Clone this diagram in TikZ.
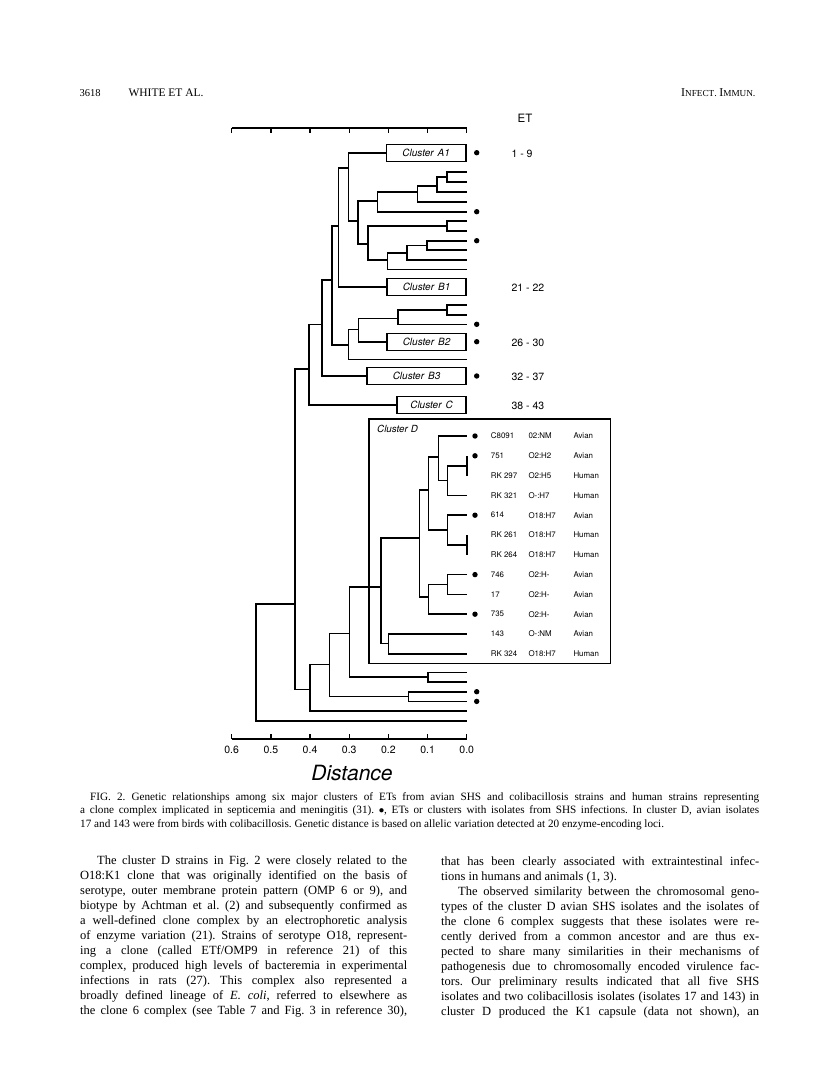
\documentclass[tikz,border=0pt]{standalone}
\usepackage{fontspec}
\setmainfont{Liberation Serif}
\newfontfamily\hel{TeX Gyre Heros}
\newcommand\bigsc[1]{{\fontsize{12}{14}\selectfont #1}}
\newcommand\smsc[1]{{\fontsize{9.2}{11}\selectfont #1}}

\begin{document}
\begin{tikzpicture}[x=1pt, y=-1pt,
  br/.style={line width=1.6pt},
  clbox/.style={draw, line width=1.3pt, minimum height=17pt, inner sep=0pt, anchor=east, font=\hel\itshape\fontsize{10}{12}\selectfont},
  dot/.style={circle, fill, inner sep=0pt, minimum size=5.4pt},
  ticklab/.style={font=\hel\fontsize{10.5}{12}\selectfont},
  etlab/.style={anchor=west, font=\hel\fontsize{10.5}{12}\selectfont},
  tb/.style={anchor=west, inner sep=0pt, font=\hel\fontsize{7.9}{9}\selectfont},
  txt/.style={anchor=north west, inner sep=0pt, align=justify}]
\useasboundingbox (0,0) rectangle (816,1082);

\node[anchor=base west, font=\fontsize{10.5}{12}\selectfont] (pgno) at (76,96) {3618};
\node[anchor=base west, font=\fontsize{11.5}{13}\selectfont] (auth) at (125,96) {WHITE ET AL.};
\node[anchor=base east] (jrnl) at (759,96) {\bigsc{I}\smsc{NFECT}.\ \bigsc{I}\smsc{MMUN}.};

% scale bars
\coordinate (tl) at (231.7,128);
\coordinate (tr) at (466.7,128);
\draw[line width=1.4pt] (tl) -- (tr);
\foreach \i in {0,...,6}
  \draw[line width=1.4pt] ({231.7+39.17*\i},128) -- ++(0,4.5);
\coordinate (bl) at (231.7,739);
\coordinate (brr) at (466.7,739);
\draw[line width=1.4pt] (bl) -- (brr);
\foreach \i/\t in {0/0.6,1/0.5,2/0.4,3/0.3,4/0.2,5/0.1,6/0.0} {
  \draw[line width=1.4pt] ({231.7+39.17*\i},739) -- ++(0,-5);
  \node[ticklab] (ax\i) at ({231.7+39.17*\i},749.5) {\t};
}
\node[font=\hel\itshape\fontsize{21}{24}\selectfont] (dist) at (352,773) {Distance};
\node[font=\hel\fontsize{11.5}{13}\selectfont] (et) at (525,118) {ET};

% cluster boxes
\node[clbox, minimum width=79.7pt] (cA1) at (466.7,152.7) {Cluster\hspace{4pt}A1};
\node[clbox, minimum width=79pt] (cB1) at (466.7,287) {Cluster\hspace{4pt}B1};
\node[clbox, minimum width=79pt] (cB2) at (466.7,341.7) {Cluster\hspace{4pt}B2};
\node[clbox, minimum width=99pt] (cB3) at (466.7,376) {Cluster\hspace{4pt}B3};
\node[clbox, minimum width=69pt] (cC) at (466.7,405) {Cluster\hspace{4pt}C};
\node[draw, line width=1.3pt, anchor=north west, inner sep=0pt, minimum width=241.7pt, minimum height=244.4pt] (boxD) at (368.3,418.3) {};
\node[anchor=west, inner sep=0pt, font=\hel\itshape\fontsize{9.8}{12}\selectfont] (labD) at (377,429) {Cluster\hspace{3pt}D};

\node[etlab] (et1) at (508,154) {1 - 9};
\node[etlab] (et2) at (508,288) {21 - 22};
\node[etlab] (et3) at (508,343) {26 - 30};
\node[etlab] (et4) at (508,377) {32 - 37};
\node[etlab] (et5) at (508,406) {38 - 43};

% leaves
\coordinate (a1) at (466.7,171.7);
\coordinate (a2) at (466.7,181.7);
\coordinate (a3) at (466.7,191.7);
\coordinate (a4) at (466.7,201.7);
\coordinate (a5) at (466.7,211.7);
\coordinate (a6) at (466.7,221);
\coordinate (a7) at (466.7,230.7);
\coordinate (a8) at (466.7,240.7);
\coordinate (a9) at (466.7,250);
\coordinate (a10) at (466.7,259.7);
\coordinate (a11) at (466.7,269.3);
\coordinate (b1) at (466.7,305);
\coordinate (b2) at (466.7,314.7);
\coordinate (b3) at (466.7,324.3);
\coordinate (b4) at (466.7,359.3);
\foreach \k in {1,...,12}
  \coordinate (dl\k) at (466.7,{436+19.8*(\k-1)});
\coordinate (e1) at (466.7,672.3);
\coordinate (e2) at (466.7,682);
\coordinate (e3) at (466.7,691.7);
\coordinate (e4) at (466.7,701.4);
\coordinate (e5) at (466.7,711.1);
\coordinate (e6) at (466.7,720.8);

% branch points
\coordinate (n12) at (446.7,176.7);
\coordinate (n13) at (436.7,186);
\coordinate (n14) at (417.3,191.7);
\coordinate (n15) at (377.3,201);
\coordinate (n67) at (446.7,225.7);
\coordinate (n89) at (426.7,245.3);
\coordinate (n810) at (406.7,252.7);
\coordinate (n811) at (387.3,260);
\coordinate (n611) at (367.7,244);
\coordinate (n111) at (357.7,220.7);
\coordinate (nA) at (348.3,167.7);
\coordinate (nAB) at (338.3,226);
\coordinate (nB) at (331.7,280);
\coordinate (c12) at (446.7,309.8);
\coordinate (c123) at (397.7,318.3);
\coordinate (c124) at (358.3,329.3);
\coordinate (c5) at (348.3,345);
\coordinate (nB3) at (321.7,324.3);
\coordinate (nC) at (309,369);
\coordinate (ntop) at (295,604);
\coordinate (root) at (255.7,662);
\coordinate (dA) at (466.7,465.7);
\coordinate (d2) at (447.3,480.5);
\coordinate (d1) at (438.3,456.7);
\coordinate (dB) at (466.7,544.9);
\coordinate (d4) at (447.3,530);
\coordinate (d5) at (428.3,490);
\coordinate (d7) at (447.3,584.5);
\coordinate (d8) at (428.3,597);
\coordinate (d6) at (419.3,537.7);
\coordinate (d9) at (388.3,643.3);
\coordinate (dR) at (381,586.7);
\coordinate (ex) at (427.7,677);
\coordinate (L3) at (349.3,633.3);
\coordinate (edot) at (408.3,696.5);
\coordinate (L2) at (329.3,664.3);
\coordinate (L1) at (310,689.3);

\foreach \p/\c in {n12/a1, n12/a2, n13/n12, n13/a3, n14/n13, n14/a4, n15/n14, n15/a5,
  n67/a6, n67/a7, n89/a8, n89/a9, n810/n89, n810/a10, n811/n810, n811/a11,
  n611/n67, n611/n811, n111/n15, n111/n611, nA/cA1.west, nA/n111, nAB/nA, nAB/cB1.west,
  nB/nAB, nB/c5, c12/b1, c12/b2, c123/c12, c123/b3, c124/c123, c124/cB2.west, c5/c124, c5/b4,
  nB3/nB, nB3/cB3.west, nC/nB3, nC/cC.west, ntop/nC, ntop/L1, root/ntop, root/e6,
  dA/dl2, dA/dl3, d2/dA, d2/dl4, d1/dl1, d1/d2, dB/dl6, dB/dl7, d4/dl5, d4/dB,
  d5/d1, d5/d4, d7/dl8, d7/dl9, d8/d7, d8/dl10, d6/d5, d6/d8, d9/dl11, d9/dl12,
  dR/d6, dR/d9, ex/e1, ex/e2, L3/dR, L3/ex, edot/e3, edot/e4, L2/L3, L2/edot, L1/L2, L1/e5}
  \draw[br] (\p) |- (\c);

% SHS marks
\node[dot] (dtA1) at (476.7,152.7) {};
\node[dot] (dt5) at (476.7,211.7) {};
\node[dot] (dt8) at (476.7,240.7) {};
\node[dot] (dtb3) at (476.7,324.3) {};
\node[dot] (dtB2) at (476.7,341.7) {};
\node[dot] (dtB3) at (476.7,376) {};
\node[dot] (dte3) at (476.7,691.7) {};
\node[dot] (dte4) at (476.7,701.4) {};
\foreach \k in {1,2,5,8,10}
  \node[dot] (dd\k) at (475,{436+19.8*(\k-1)}) {};

\foreach \k/\id/\se/\ho in {1/C8091/02:NM/Avian, 2/751/O2:H2/Avian, 3/RK 297/O2:H5/Human,
  4/RK 321/O-:H7/Human, 5/614/O18:H7/Avian, 6/RK 261/O18:H7/Human, 7/RK 264/O18:H7/Human,
  8/746/O2:H-/Avian, 9/17/O2:H-/Avian, 10/735/O2:H-/Avian, 11/143/O-:NM/Avian, 12/RK 324/O18:H7/Human} {
  \node[tb] (id\k) at (490.7,{436+19.8*(\k-1)}) {\id};
  \node[tb] (se\k) at (528.3,{436+19.8*(\k-1)}) {\se};
  \node[tb] (ho\k) at (573.3,{436+19.8*(\k-1)}) {\ho};
}

% caption and text
\node[txt, text width=679pt, font=\fontsize{11.2}{13.8}\selectfont] (cap) at (80,792) {\frenchspacing\hyphenpenalty=10000 \exhyphenpenalty=10000
\hspace*{10pt}FIG. 2. Genetic relationships among six major clusters of ETs from avian SHS and colibacillosis strains and human strains representing\linebreak
a clone complex implicated in septicemia and meningitis (31). $\bullet$, ETs or clusters with isolates from SHS infections. In cluster D, avian isolates\linebreak
17 and 143 were from birds with colibacillosis. Genetic distance is based on allelic variation detected at 20 enzyme-encoding loci.\par};

\node[txt, text width=327pt, font=\fontsize{12.5}{15}\selectfont] (colL) at (80,856) {\frenchspacing\hyphenpenalty=10000 \exhyphenpenalty=10000
\hspace*{17pt}The cluster D strains in Fig. 2 were closely related to the\linebreak
O18:K1 clone that was originally identified on the basis of\linebreak
serotype, outer membrane protein pattern (OMP 6 or 9), and\linebreak
biotype by Achtman et al. (2) and subsequently confirmed as\linebreak
a well-defined clone complex by an electrophoretic analysis\linebreak
of enzyme variation (21). Strains of serotype O18, represent-\linebreak
ing a clone (called ETf/OMP9 in reference 21) of this\linebreak
complex, produced high levels of bacteremia in experimental\linebreak
infections in rats (27). This complex also represented a\linebreak
broadly defined lineage of \textit{E. coli}, referred to elsewhere as\linebreak
the clone 6 complex (see Table 7 and Fig. 3 in reference 30),\parfillskip=0pt\par};

\node[txt, text width=318pt, font=\fontsize{12.5}{15}\selectfont] (colR) at (441,856) {\frenchspacing\hyphenpenalty=10000 \exhyphenpenalty=10000
that has been clearly associated with extraintestinal infec-\linebreak
tions in humans and animals (1, 3).\par
\hspace*{17pt}The observed similarity between the chromosomal geno-\linebreak
types of the cluster D avian SHS isolates and the isolates of\linebreak
the clone 6 complex suggests that these isolates were re-\linebreak
cently derived from a common ancestor and are thus ex-\linebreak
pected to share many similarities in their mechanisms of\linebreak
pathogenesis due to chromosomally encoded virulence fac-\linebreak
tors. Our preliminary results indicated that all five SHS\linebreak
isolates and two colibacillosis isolates (isolates 17 and 143) in\linebreak
cluster D produced the K1 capsule (data not shown), an\parfillskip=0pt\par};
\end{tikzpicture}
\end{document}
